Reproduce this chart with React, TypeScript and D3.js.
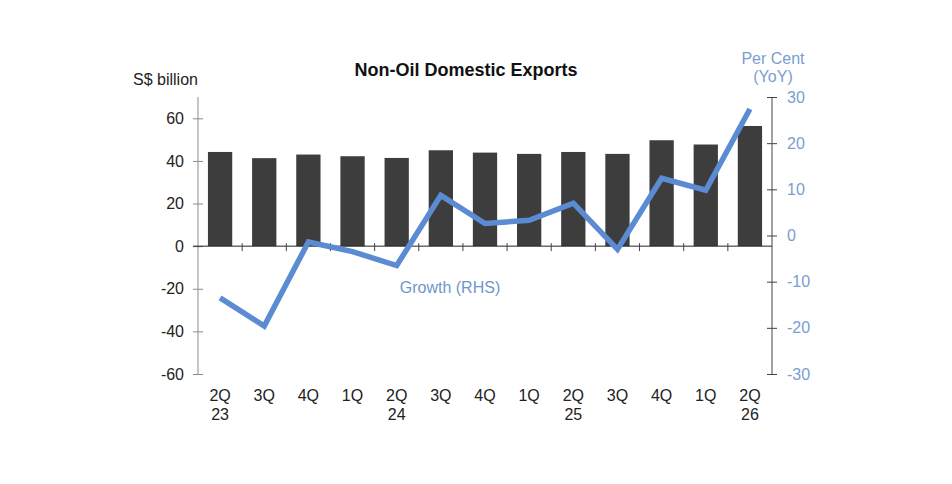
import { useEffect, useRef } from "react";
import * as d3 from "d3";

const WIDTH = 952;
const HEIGHT = 484;
const MARGIN = { top: 97, right: 180, bottom: 110, left: 198 };

const quarters = ["2Q", "3Q", "4Q", "1Q", "2Q", "3Q", "4Q", "1Q", "2Q", "3Q", "4Q", "1Q", "2Q"];
const years = ["23", "", "", "", "24", "", "", "", "25", "", "", "", "26"];
const exportsValues = [44.2, 41.3, 43.0, 42.2, 41.4, 45.0, 43.9, 43.3, 44.2, 43.3, 49.7, 47.7, 56.4];
const growthValues = [-13.5, -19.6, -1.4, -3.5, -6.5, 8.7, 2.6, 3.3, 7.0, -3.0, 12.4, 9.8, 27.4];
const leftTicks = [-60, -40, -20, 0, 20, 40, 60];
const rightTicks = [-30, -20, -10, 0, 10, 20, 30];

const FONT = "'Liberation Sans', Arial, sans-serif";
const BAR_COLOR = "#3d3d3d";
const LINE_COLOR = "#5b8bd3";
const RHS_COLOR = "#7b9dd0";

const App = () => {
  const ref = useRef(null);

  useEffect(() => {
    const svg = d3.select(ref.current);
    svg.selectAll("*").remove();

    const boundsWidth = WIDTH - MARGIN.left - MARGIN.right;
    const boundsHeight = HEIGHT - MARGIN.top - MARGIN.bottom;
    const idx = quarters.map((_, i) => String(i));

    const x = d3.scaleBand().domain(idx).range([0, boundsWidth]).paddingInner(0.45).paddingOuter(0.225);
    const xPoint = (i: number) => (x(String(i)) ?? 0) + x.bandwidth() / 2;
    const step = boundsWidth / quarters.length;
    const yLeft = d3.scaleLinear().domain([-60, 70]).range([boundsHeight, 0]);
    const yRight = d3.scaleLinear().domain([-30, 30]).range([boundsHeight, 0]);

    const g = svg.append("g").attr("transform", `translate(${MARGIN.left},${MARGIN.top})`);

    // bars
    g.selectAll("rect.bar")
      .data(exportsValues)
      .join("rect")
      .attr("class", "bar")
      .attr("x", (_, i) => x(String(i)) ?? 0)
      .attr("width", x.bandwidth())
      .attr("y", (d) => yLeft(d))
      .attr("height", (d) => yLeft(0) - yLeft(d))
      .attr("fill", BAR_COLOR);

    // left axis
    const leftAxis = g
      .append("g")
      .call(d3.axisLeft(yLeft).tickValues(leftTicks).tickFormat((d) => String(d)).tickSize(0).tickPadding(14));
    leftAxis.select(".domain").attr("stroke", "#8a8a8a").attr("d", `M0,0V${boundsHeight}`);
    leftAxis.selectAll(".tick line").attr("x1", -5).attr("x2", 5).attr("stroke", "#8a8a8a");
    leftAxis.selectAll(".tick text").attr("font-size", 16).attr("font-family", FONT).attr("fill", "#222");

    // right axis
    const rightAxis = g
      .append("g")
      .attr("transform", `translate(${boundsWidth},0)`)
      .call(d3.axisRight(yRight).tickValues(rightTicks).tickFormat((d) => String(d)).tickSize(0).tickPadding(15));
    rightAxis.select(".domain").attr("stroke", "#444").attr("d", `M0,0V${boundsHeight}`);
    rightAxis.selectAll(".tick line").attr("x1", -5).attr("x2", 5).attr("stroke", "#444");
    rightAxis.selectAll(".tick text").attr("font-size", 16).attr("font-family", FONT).attr("fill", RHS_COLOR);

    // zero line with category ticks
    const zeroY = yLeft(0);
    g.append("line")
      .attr("x1", -5)
      .attr("x2", boundsWidth)
      .attr("y1", zeroY)
      .attr("y2", zeroY)
      .attr("stroke", "#222");
    g.selectAll("line.cat")
      .data(d3.range(1, quarters.length))
      .join("line")
      .attr("class", "cat")
      .attr("x1", (d) => d * step)
      .attr("x2", (d) => d * step)
      .attr("y1", zeroY - 3)
      .attr("y2", zeroY + 5)
      .attr("stroke", "#444");

    // x labels
    const labels = g
      .selectAll("text.xl")
      .data(quarters)
      .join("text")
      .attr("class", "xl")
      .attr("x", (_, i) => xPoint(i))
      .attr("y", boundsHeight + 27)
      .attr("text-anchor", "middle")
      .attr("font-size", 16)
      .attr("font-family", FONT)
      .attr("fill", "#222");
    labels.append("tspan").attr("x", (_, i) => xPoint(i)).text((d) => d);
    labels
      .append("tspan")
      .attr("x", (_, i) => xPoint(i))
      .attr("dy", 19)
      .text((_, i) => years[i]);

    // growth line
    const line = d3
      .line<number>()
      .x((_, i) => xPoint(i))
      .y((d) => yRight(d));
    g.append("path")
      .datum(growthValues)
      .attr("d", line)
      .attr("fill", "none")
      .attr("stroke", LINE_COLOR)
      .attr("stroke-width", 5.5)
      .attr("stroke-linejoin", "miter");

    g.append("text")
      .attr("x", 252)
      .attr("y", 196)
      .attr("text-anchor", "middle")
      .attr("font-size", 16)
      .attr("font-family", FONT)
      .attr("fill", "#6f95cc")
      .text("Growth (RHS)");

    // titles
    svg.append("text")
      .attr("x", 466)
      .attr("y", 76)
      .attr("text-anchor", "middle")
      .attr("font-size", 18)
      .attr("font-weight", "bold")
      .attr("font-family", FONT)
      .attr("fill", "#111")
      .text("Non-Oil Domestic Exports");
    svg.append("text")
      .attr("x", 133)
      .attr("y", 85)
      .attr("font-size", 16)
      .attr("font-family", FONT)
      .attr("fill", "#222")
      .text("S$ billion");
    const rhs = svg.append("text")
      .attr("x", 773)
      .attr("y", 64)
      .attr("text-anchor", "middle")
      .attr("font-size", 16)
      .attr("font-family", FONT)
      .attr("fill", RHS_COLOR);
    rhs.append("tspan").attr("x", 773).text("Per Cent");
    rhs.append("tspan").attr("x", 773).attr("dy", 18).text("(YoY)");
  }, []);

  return (
    <div style={{ position: "absolute", left: 0, top: 0, background: "#fff" }}>
      <svg ref={ref} width={WIDTH} height={HEIGHT} />
    </div>
  );
};

export default App;
